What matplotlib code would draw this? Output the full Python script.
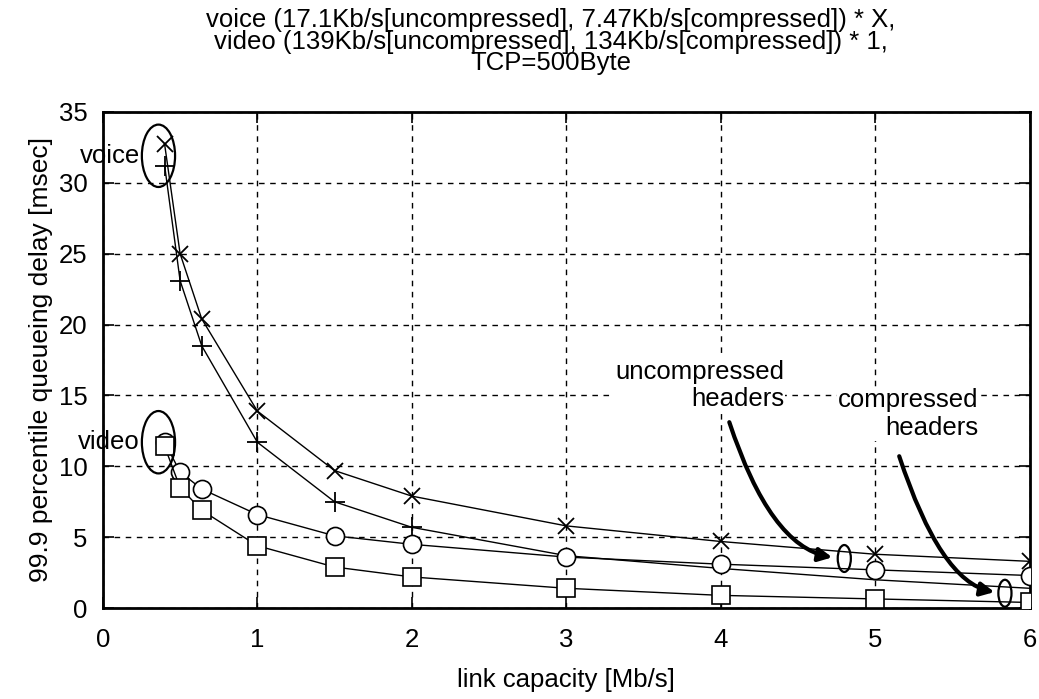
import matplotlib.pyplot as plt
from matplotlib.patches import Ellipse, FancyArrowPatch

plt.rcParams['font.family'] = ['Liberation Sans', 'DejaVu Sans']

# link capacity [Mb/s]
capacity = [0.4, 0.5, 0.64, 1, 1.5, 2, 3, 4, 5, 6]

# 99.9 percentile queueing delay [msec]
voice_uncomp = [32.7, 25.0, 20.4, 13.9, 9.7, 7.9, 5.8, 4.7, 3.8, 3.3]
voice_comp = [31.2, 23.1, 18.5, 11.7, 7.5, 5.7, 3.7, 2.8, 2.0, 1.4]
video_uncomp = [11.7, 9.6, 8.4, 6.6, 5.1, 4.5, 3.6, 3.1, 2.7, 2.3]
video_comp = [11.4, 8.5, 6.9, 4.4, 2.9, 2.2, 1.4, 0.9, 0.65, 0.4]

title = ("voice (17.1Kb/s[uncompressed], 7.47Kb/s[compressed]) * X,\n"
         "video (139Kb/s[uncompressed], 134Kb/s[compressed]) * 1,\n"
         "TCP=500Byte")

fs = 18.5

fig = plt.figure(figsize=(10.39, 6.99), dpi=100)
ax = fig.add_axes([0.099, 0.130, 0.892, 0.710])

kw = dict(color='black', linewidth=1.0, markerfacecolor='white', markeredgecolor='black', zorder=3)
ax.plot(capacity, voice_uncomp, marker='x', markersize=12, markeredgewidth=1.3, **kw)
ax.plot(capacity, voice_comp, marker='+', markersize=14, markeredgewidth=1.3, markevery=range(6), **kw)
ax.plot(capacity, video_uncomp, marker='o', markersize=13, markeredgewidth=1.2, **kw)
ax.plot(capacity, video_comp, marker='s', markersize=13, markeredgewidth=1.2, **kw)

ax.set_xlim(0, 6)
ax.set_ylim(0, 35)
ax.set_xticks(range(0, 7))
ax.set_yticks(range(0, 36, 5))
ax.grid(True, linestyle=(0, (4, 4)), color='black', linewidth=1.0)
ax.tick_params(direction='in', length=8, width=1.2, top=True, right=True, labelsize=fs)
ax.tick_params(axis='x', pad=14)
ax.tick_params(axis='y', pad=11)
for s in ax.spines.values():
    s.set_linewidth(2)

ax.set_xlabel('link capacity [Mb/s]', fontsize=fs, labelpad=12)
ax.set_ylabel('99.9 percentile queueing delay [msec]', fontsize=19, labelpad=4)
fig.text(0.53, 0.988, title, fontsize=fs, ha='center', va='top', linespacing=0.85)

# circled groups
ax.add_patch(Ellipse((0.36, 31.9), 0.215, 4.4, fill=False, lw=1.6, zorder=4))
ax.add_patch(Ellipse((0.36, 11.7), 0.215, 4.4, fill=False, lw=1.6, zorder=4))
ax.text(0.24, 31.9, 'voice', fontsize=fs, ha='right', va='center')
ax.text(0.24, 11.7, 'video', fontsize=fs, ha='right', va='center')

ax.add_patch(Ellipse((4.80, 3.5), 0.085, 1.9, fill=False, lw=1.6, zorder=4))
ax.add_patch(Ellipse((5.84, 1.05), 0.085, 1.9, fill=False, lw=1.6, zorder=4))

ax.text(4.41, 15.7, 'uncompressed\nheaders', fontsize=fs, ha='right', va='center',
        multialignment='right', linespacing=1.2,
        bbox=dict(facecolor='white', edgecolor='none', pad=1))
ax.text(5.67, 13.7, 'compressed\nheaders', fontsize=fs, ha='right', va='center',
        multialignment='right', linespacing=1.2,
        bbox=dict(facecolor='white', edgecolor='none', pad=1))

for start, end in [((4.05, 13.3), (4.74, 3.55)), ((5.15, 10.9), (5.79, 1.1))]:
    ax.add_patch(FancyArrowPatch(start, end, connectionstyle='angle3,angleA=-72,angleB=-8',
                                 arrowstyle='-|>,head_length=8,head_width=4',
                                 color='black', lw=3, zorder=5))

fig.savefig('out.png', dpi=100)
